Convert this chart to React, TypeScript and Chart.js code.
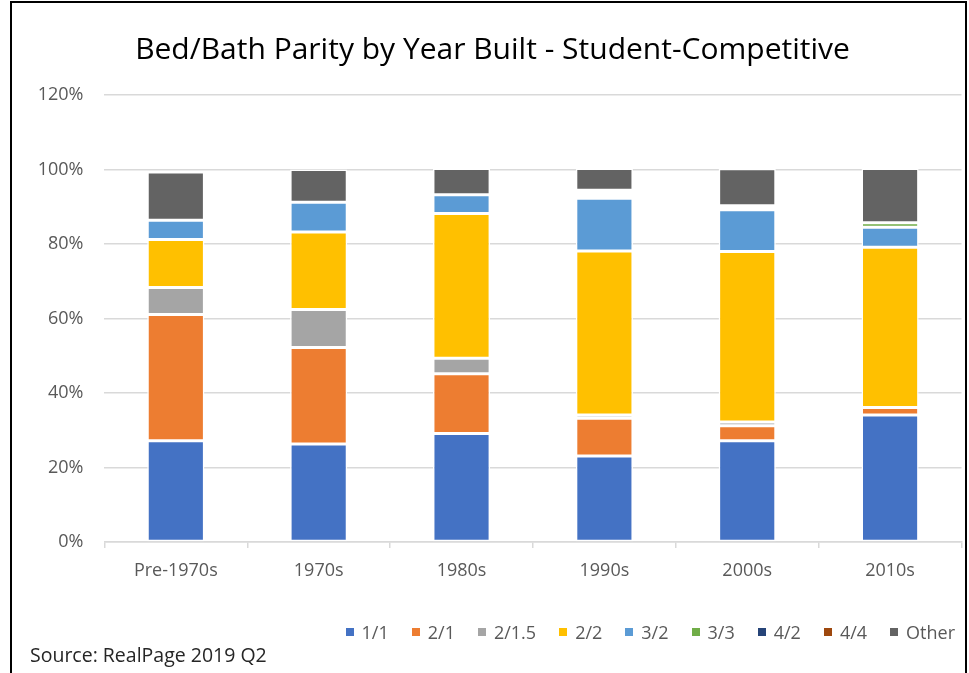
import React, { useEffect, useRef } from 'react';
import { Chart, registerables } from 'chart.js';
Chart.register(...registerables);

const categories = ['Pre-1970s', '1970s', '1980s', '1990s', '2000s', '2010s'];
const seriesNames = ['1/1', '2/1', '2/1.5', '2/2', '3/2', '3/3', '4/2', '4/4', 'Other'];
const s1_1 = [27.2, 26.3, 29.1, 23.1, 27.2, 34.1];
const s2_1 = [33.9, 25.9, 16.1, 10.1, 4.0, 2.0];
const s2_15 = [7.2, 10.2, 4.1, 0.9, 1.0, 0];
const s2_2 = [12.9, 20.8, 38.9, 44.0, 45.8, 43.0];
const s3_2 = [5.2, 8.0, 5.0, 14.2, 11.2, 5.4];
const s3_3 = [0, 0, 0, 0.7, 0.4, 1.2];
const s4_2 = [0, 0, 0, 0.7, 0.3, 0];
const s4_4 = [0, 0, 0, 0.7, 0.4, 0];
const sOther = [12.9, 8.8, 7.1, 5.9, 9.9, 14.6];
const seriesValues = [s1_1, s2_1, s2_15, s2_2, s3_2, s3_3, s4_2, s4_4, sOther];
const seriesColors = ['#4472C4', '#ED7D31', '#A5A5A5', '#FFC000', '#5B9BD5', '#70AD47', '#264478', '#9E480E', '#636363'];
const yTicks = [0, 20, 40, 60, 80, 100, 120];

const FONT = '"Open Sans", Carlito, Calibri, sans-serif';
const TEXT = '#595959';

export default function App() {
  const ref = useRef<HTMLCanvasElement>(null);
  useEffect(() => {
    const chart = new Chart(ref.current!, {
      type: 'bar',
      data: {
        labels: categories,
        datasets: seriesNames.map((name, i) => ({
          label: name,
          data: seriesValues[i],
          backgroundColor: seriesColors[i],
          borderColor: '#FFFFFF',
          borderWidth: 1.5,
          borderSkipped: false,
          inflateAmount: 0,
          barPercentage: 0.4,
          categoryPercentage: 1,
        })),
      },
      options: {
        animation: false,
        responsive: false,
        maintainAspectRatio: false,
        layout: { padding: { top: 95, left: 0, right: 7.5, bottom: 91 } },
        plugins: {
          legend: { display: false },
          title: { display: false },
          tooltip: { enabled: false },
        },
        scales: {
          x: {
            stacked: true,
            grid: { drawOnChartArea: false, color: '#D9D9D9', tickLength: 6, offset: true, lineWidth: 1.5 },
            border: { color: '#D9D9D9', width: 1.5 },
            ticks: { color: TEXT, font: { size: 18, family: FONT }, padding: 12 },
            afterFit: (s: any) => { s.height = 40; },
          },
          y: {
            stacked: true,
            min: 0,
            max: 120,
            afterBuildTicks: (s: any) => { s.ticks = yTicks.map((v) => ({ value: v })); },
            ticks: { color: TEXT, font: { size: 18, family: FONT }, padding: 21, callback: (v: any) => v + '%' },
            grid: { color: '#D9D9D9', drawTicks: false, lineWidth: 1.5 },
            border: { display: false },
            afterFit: (s: any) => { s.width = 104.4; },
          },
        },
      },
    });
    return () => chart.destroy();
  }, []);

  return (
    <div style={{ position: 'absolute', left: 0, top: 0, width: 969, height: 673, overflow: 'hidden', background: '#fff', fontFamily: FONT }}>
      <div style={{ position: 'absolute', left: 10, top: 1, width: 953, height: 720, border: '2px solid #000' }} />
      <canvas ref={ref} width={969} height={673} style={{ position: 'absolute', left: 0, top: 0 }} />
      <div style={{ position: 'absolute', left: 0, width: 985, top: 28, textAlign: 'center', fontSize: 30, color: '#000', whiteSpace: 'nowrap', lineHeight: '40px' }}>
        Bed/Bath Parity by Year Built - Student-Competitive
      </div>
      <div style={{ position: 'absolute', right: 14, top: 620, display: 'flex', alignItems: 'center', fontSize: 18, color: TEXT, lineHeight: '24px', whiteSpace: 'nowrap' }}>
        {seriesNames.map((name, i) => (
          <div key={name} style={{ display: 'flex', alignItems: 'center', marginLeft: i === 0 ? 0 : 23 }}>
            <span style={{ display: 'inline-block', width: 8, height: 8, background: seriesColors[i], marginRight: 8 }} />
            <span>{name}</span>
          </div>
        ))}
      </div>
      <div style={{ position: 'absolute', left: 30, top: 642, fontSize: 19.5, color: '#262626', whiteSpace: 'nowrap', lineHeight: '26px' }}>
        Source: RealPage 2019 Q2
      </div>
    </div>
  );
}
